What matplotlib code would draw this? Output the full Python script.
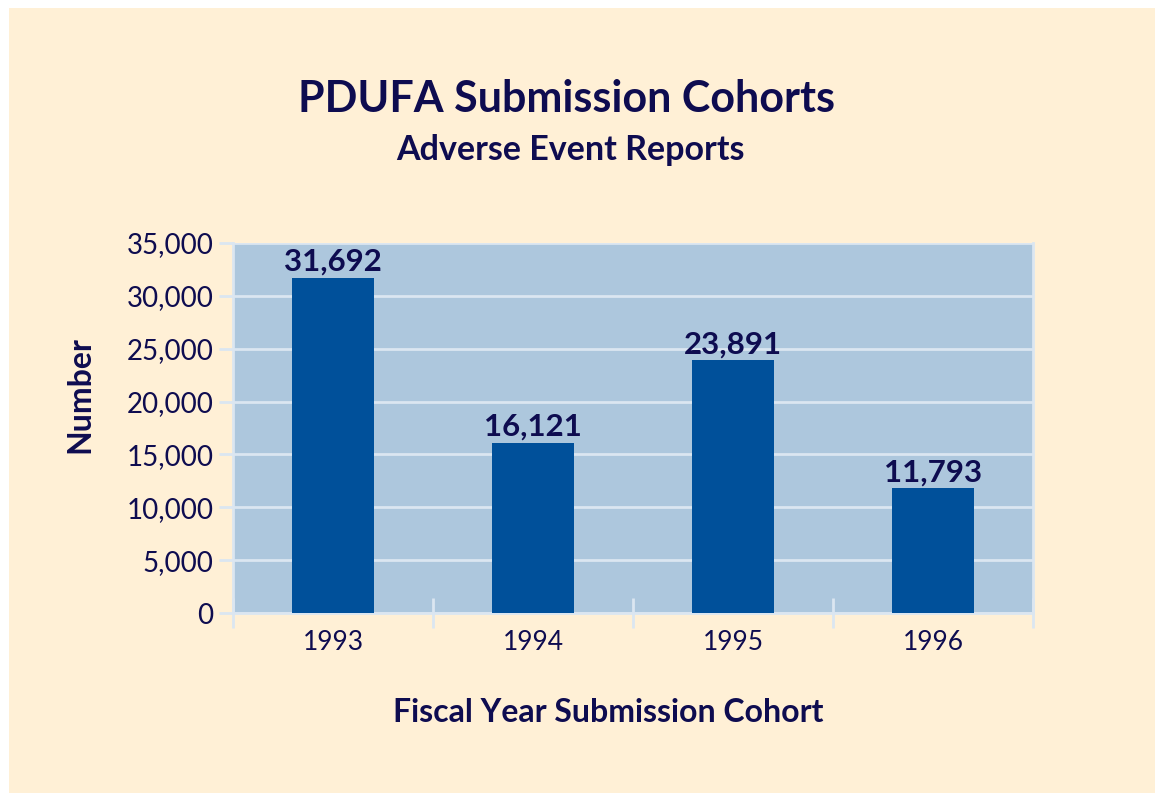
import numpy as np
import matplotlib.pyplot as plt
from matplotlib.patches import Rectangle
from matplotlib.ticker import FuncFormatter, FixedLocator

years = ['1993', '1994', '1995', '1996']
reports = [31692, 16121, 23891, 11793]

navy = '#0e0c50'
bar_color = '#00509a'
plot_bg = '#adc7dd'
grid_color = '#dbe6f1'
cream = '#fff0d6'

plt.rcParams['font.family'] = ['Lato', 'DejaVu Sans']

fig = plt.figure(figsize=(11.55, 7.93), dpi=100, facecolor='white')
# cream panel behind everything
fig.patches.append(Rectangle((9 / 1155, 0), 1 - 9 / 1155, 1 - 8 / 793,
                             transform=fig.transFigure, facecolor=cream,
                             edgecolor='none', zorder=-10))

ax = fig.add_axes([233 / 1155, 1 - 613 / 793, 800 / 1155, 370 / 793])
ax.set_facecolor(plot_bg)

x = np.arange(len(years))
ax.bar(x, reports, width=0.41, color=bar_color, zorder=3)

for xi, v in zip(x, reports):
    ax.text(xi, v + 200, f'{v:,}', ha='center', va='bottom',
            fontsize=22.5, fontweight='bold', color=navy, zorder=4)

ax.set_ylim(0, 35000)
ax.set_xlim(-0.5, len(years) - 0.5)
ax.set_yticks(np.arange(0, 35001, 5000))
ax.yaxis.set_major_formatter(FuncFormatter(lambda v, p: f'{int(v):,}'))
ax.grid(axis='y', color=grid_color, linewidth=2, zorder=1)

ax.set_xticks(x)
ax.set_xticklabels(years)
ax.xaxis.set_minor_locator(FixedLocator(np.arange(-0.5, len(years), 1)))
ax.tick_params(axis='x', which='major', length=0, pad=12,
               labelsize=19, labelcolor=navy)
ax.tick_params(axis='x', which='minor', direction='inout', length=22,
               width=2, color=grid_color)
ax.tick_params(axis='y', length=10, width=2, color=grid_color,
               labelsize=20, labelcolor=navy, pad=4)

for side in ['left', 'bottom', 'right']:
    ax.spines[side].set_color(grid_color)
    ax.spines[side].set_linewidth(2)
ax.spines['top'].set_visible(False)

fig.text(80 / 1155, 1 - 395 / 793, 'Number', rotation=90, ha='center',
         va='center', fontsize=23, fontweight='bold', color=navy)
fig.text(608 / 1155, 1 - 712 / 793, 'Fiscal Year Submission Cohort',
         ha='center', va='center', fontsize=23, fontweight='bold', color=navy)

fig.text(566 / 1155, 1 - 99 / 793, 'PDUFA Submission Cohorts', ha='center',
         va='center', fontsize=31, fontweight='bold', color=navy)
fig.text(570 / 1155, 1 - 150 / 793, 'Adverse Event Reports', ha='center',
         va='center', fontsize=24.5, fontweight='bold', color=navy)

fig.savefig('out.png', dpi=100, facecolor=fig.get_facecolor())
